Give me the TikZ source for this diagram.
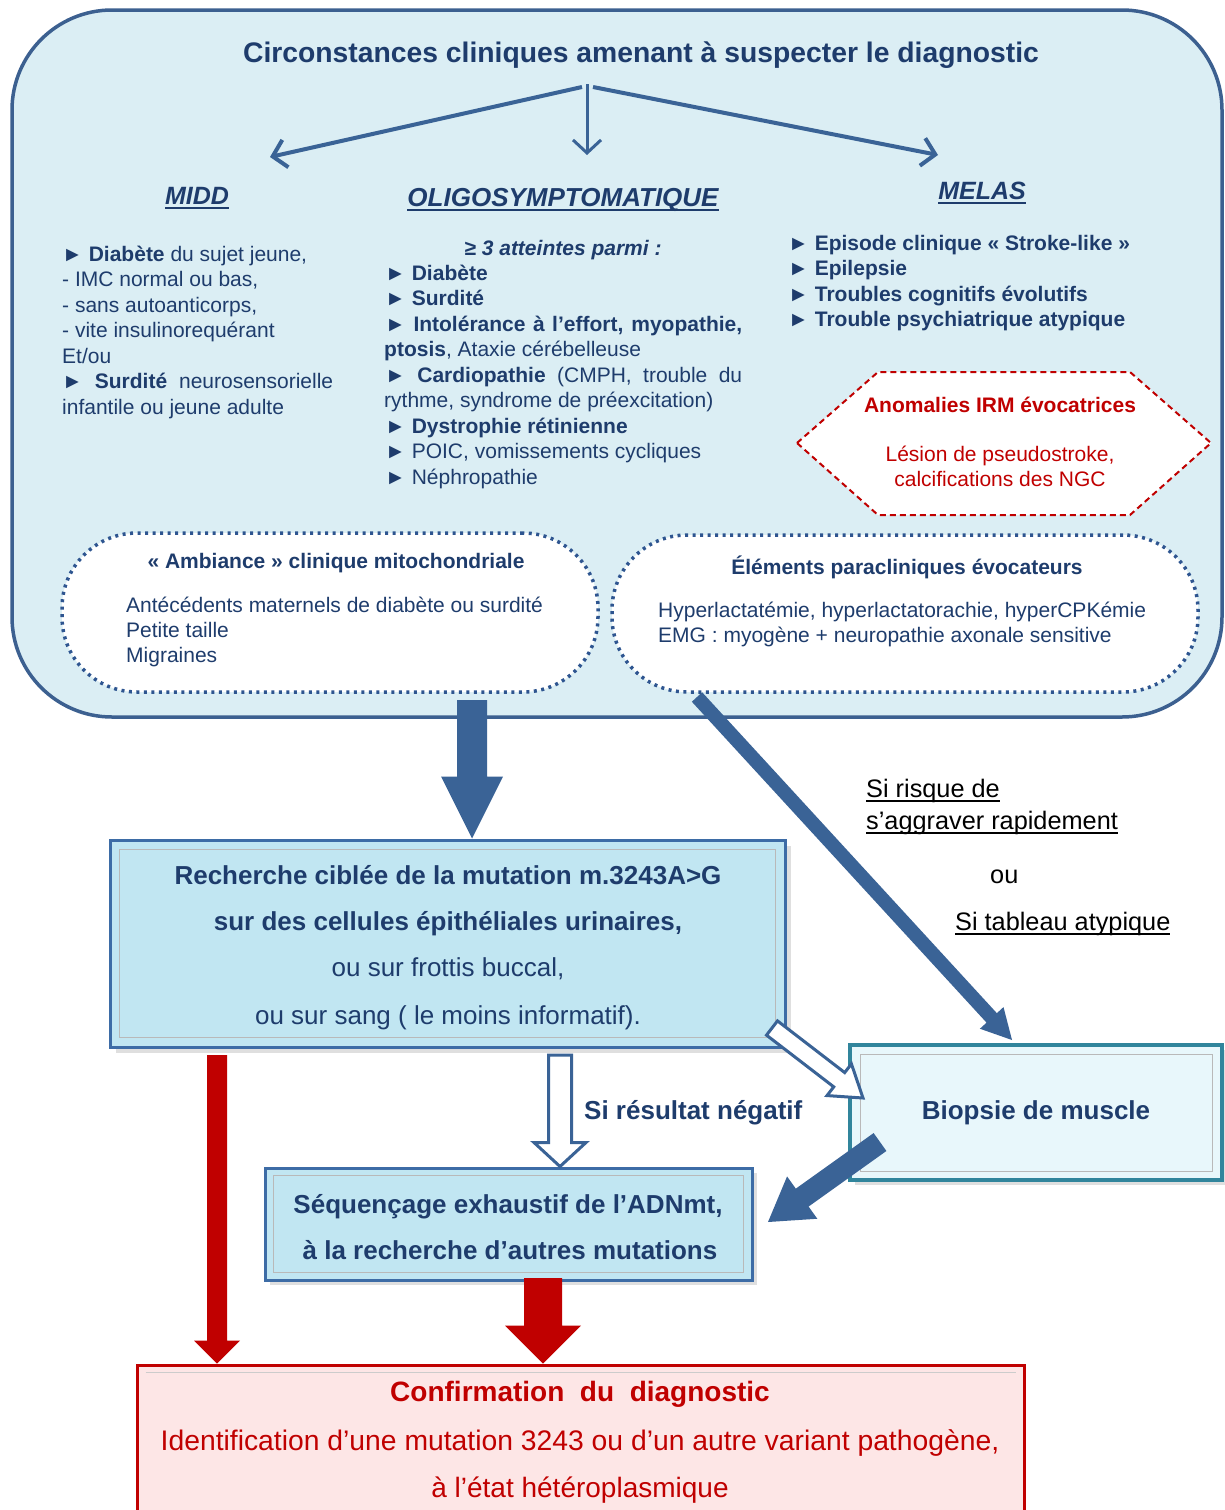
\documentclass[tikz,border=0pt]{standalone}
\usepackage{fontspec}
\setmainfont{Liberation Sans}
\usetikzlibrary{arrows.meta,calc}
\definecolor{navy}{HTML}{1E3C6C}
\definecolor{arrowblue}{HTML}{3A6396}
\definecolor{framec}{HTML}{3C6090}
\definecolor{bgblue}{HTML}{DBEEF4}
\definecolor{dotblue}{HTML}{2E5590}
\definecolor{boxfill}{HTML}{C1E6F2}
\definecolor{boxline}{HTML}{3D6CA6}
\definecolor{biotealc}{HTML}{31859C}
\definecolor{biofill}{HTML}{E8F7FB}
\definecolor{redc}{HTML}{C00000}
\definecolor{pinkfill}{HTML}{FDE6E6}
\newcommand\szTitle{\fontsize{28.3}{33}\selectfont}
\newcommand\szHead{\fontsize{25}{30}\selectfont}
\newcommand\szBody{\fontsize{21}{25.5}\selectfont}
\newcommand\szBoxt{\fontsize{26}{31}\selectfont}
\newcommand\szConf{\fontsize{28}{33}\selectfont}
\newcommand\myul[1]{\leavevmode\setbox0\hbox{#1}\rlap{\raisebox{-5pt}{\rule{\wd0}{2pt}}}\box0}
\newcommand\myulb[1]{\leavevmode\setbox0\hbox{#1}\rlap{\raisebox{-4.5pt}{\rule{\wd0}{1.6pt}}}\box0}
\newcommand\blockarr[6]{%
  \coordinate (bah) at ($(#3)!#6!(#2)$);
  \path[#1] ($(#2)!#4!90:(#3)$) -- ($(bah)!#4!90:(#3)$) -- ($(bah)!#5!90:(#3)$) -- (#3)
    -- ($(bah)!#5!-90:(#3)$) -- ($(bah)!#4!-90:(#3)$) -- ($(#2)!#4!-90:(#3)$) -- cycle;}
\begin{document}
\begin{tikzpicture}[x=1pt,y=-1pt,
  txt/.style={anchor=base west, inner sep=0pt, text=navy, font=\szBody},
  ctxt/.style={anchor=base, inner sep=0pt, text=navy, font=\szBody},
  mainbox/.style={draw=framec, line width=3.5pt, fill=bgblue, rounded corners=100pt, inner sep=0pt},
  dotbox/.style={draw=dotblue, fill=white, line width=3.5pt, dash pattern=on 3pt off 4.5pt, rounded corners=75pt, inner sep=0pt},
  bluebox/.style={draw=boxline, fill=boxfill, line width=3pt, inner sep=0pt},
  biobox/.style={draw=biotealc, fill=biofill, line width=4pt, inner sep=0pt},
  confbox/.style={draw=redc, fill=pinkfill, line width=3pt, inner sep=0pt},
  bevel/.style={draw=gray!55, line width=1pt},
  shadowc/.style={fill=gray!70, opacity=0.35},
  forkarrow/.style={draw=arrowblue, line width=4pt, -{Straight Barb[length=13pt,width=28pt]}},
  solidarrow/.style={fill=arrowblue},
  redarrow/.style={fill=redc},
  hollowarrow/.style={draw=arrowblue, fill=white, line width=3pt, line join=miter}
]
\useasboundingbox (0,0) rectangle (1225,1510);
\fill[white] (0,0) rectangle (1225,1510);

% main frame
\node[mainbox, minimum width=1210pt, minimum height=707pt] (main) at (617,363.5) {};
\node[ctxt, font=\szTitle\bfseries] (title) at (641,62) {Circonstances cliniques amenant à suspecter le diagnostic};

\coordinate (forkL) at (582,87);
\coordinate (forkM) at (587,84);
\coordinate (forkR) at (593,87);
\coordinate (tipL) at (270,157);
\coordinate (tipM) at (587,155);
\coordinate (tipR) at (938,155);
\draw[forkarrow] (forkL) -- (tipL);
\draw[forkarrow, line width=3pt] (forkM) -- (tipM);
\draw[forkarrow] (forkR) -- (tipR);

\node[ctxt, font=\szHead\bfseries\itshape] (hMIDD) at (197,204) {\myul{MIDD}};
\node[ctxt, font=\fontsize{26}{30}\selectfont\bfseries\itshape] (hOLIGO) at (563,206) {\myul{OLIGOSYMPTOMATIQUE}};
\node[ctxt, font=\szHead\bfseries\itshape] (hMELAS) at (982,199) {\myul{MELAS}};

% MIDD
\node[txt] (m1) at (62,261) {► \textbf{Diabète} du sujet jeune,};
\node[txt] (m2) at (62,286.5) {- IMC normal ou bas,};
\node[txt] (m3) at (62,312) {- sans autoanticorps,};
\node[txt] (m4) at (62,337.5) {- vite insulinorequérant};
\node[txt] (m5) at (62,363) {Et/ou};
\node[txt] (m6) at (62,388.5) {\makebox[271pt][s]{► \textbf{Surdité} neurosensorielle}};
\node[txt] (m7) at (62,414) {infantile ou jeune adulte};

% OLIGO
\node[ctxt] (o0) at (563,255) {\textbf{\textit{≥ 3 atteintes parmi :}}};
\node[txt] (o1) at (385,280) {► \textbf{Diabète}};
\node[txt] (o2) at (385,305.5) {► \textbf{Surdité}};
\node[txt] (o3) at (385,331) {\makebox[357pt][s]{► \textbf{Intolérance à l’effort, myopathie,}}};
\node[txt] (o4) at (384,356.5) {\textbf{ptosis}, Ataxie cérébelleuse};
\node[txt] (o5) at (385,382) {\makebox[357pt][s]{► \textbf{Cardiopathie} (CMPH, trouble du}};
\node[txt] (o6) at (384,407.5) {rythme, syndrome de préexcitation)};
\node[txt] (o7) at (385,433) {► \textbf{Dystrophie rétinienne}};
\node[txt] (o8) at (385,458.5) {► POIC, vomissements cycliques};
\node[txt] (o9) at (385,484) {► Néphropathie};

% MELAS
\node[txt, font=\szBody\bfseries] (e1) at (788,250) {► Episode clinique « Stroke-like »};
\node[txt, font=\szBody\bfseries] (e2) at (788,275.5) {► Epilepsie};
\node[txt, font=\szBody\bfseries] (e3) at (788,301) {► Troubles cognitifs évolutifs};
\node[txt, font=\szBody\bfseries] (e4) at (788,326.5) {► Trouble psychiatrique atypique};

% hexagon
\draw[draw=redc, fill=white, line width=2pt, dash pattern=on 6pt off 4pt]
  (797,443) -- (878,372) -- (1130,372) -- (1211,443) -- (1130,515) -- (878,515) -- cycle;
\node[ctxt, text=redc, font=\szBody\bfseries] (x1) at (1000,412) {Anomalies IRM évocatrices};
\node[ctxt, text=redc] (x2) at (1000,461) {Lésion de pseudostroke,};
\node[ctxt, text=redc] (x3) at (1000,486) {calcifications des NGC};

% dotted boxes
\node[dotbox, minimum width=536pt, minimum height=159pt] (amb) at (330,612.5) {};
\node[dotbox, minimum width=586pt, minimum height=157pt] (elem) at (905,613.5) {};
\node[ctxt, font=\szBody\bfseries] (a0) at (336,568) {« Ambiance » clinique mitochondriale};
\node[txt] (a1) at (126,612) {Antécédents maternels de diabète ou surdité};
\node[txt] (a2) at (126,637) {Petite taille};
\node[txt] (a3) at (126,662) {Migraines};
\node[ctxt, font=\szBody\bfseries] (p0) at (907,574) {Éléments paracliniques évocateurs};
\node[txt] (p1) at (658,617) {Hyperlactatémie, hyperlactatorachie, hyperCPKémie};
\node[txt] (p2) at (658,642) {EMG : myogène + neuropathie axonale sensitive};

% side text
\node[txt, text=black, font=\fontsize{25.3}{30}\selectfont] (s1) at (866,797) {\myulb{Si risque de}};
\node[txt, text=black, font=\fontsize{25.3}{30}\selectfont] (s2) at (866,829) {\myulb{s’aggraver rapidement}};
\node[txt, text=black, font=\fontsize{25.3}{30}\selectfont] (s3) at (990,883) {ou};
\node[txt, text=black, font=\fontsize{25.3}{30}\selectfont] (s4) at (955,930) {\myulb{Si tableau atypique}};

% lower boxes: shadows
\fill[shadowc] (116,846) rectangle (791,1053);
\fill[shadowc] (270,1173) rectangle (757,1285);
\fill[shadowc] (855,1050) rectangle (1227,1185);

\node[bluebox, minimum width=675pt, minimum height=207pt] (rech) at (447.5,943.5) {};
\draw[bevel] ($(rech.north west)+(11,11)$) rectangle ($(rech.south east)+(-11,-11)$);
\node[ctxt, font=\szBoxt\bfseries] (r1) at (448,884) {Recherche ciblée de la mutation m.3243A>G};
\node[ctxt, font=\szBoxt\bfseries] (r2) at (448,930) {sur des cellules épithéliales urinaires,};
\node[ctxt, font=\szBoxt] (r3) at (448,976) {ou sur frottis buccal,};
\node[ctxt, font=\szBoxt] (r4) at (448,1024) {ou sur sang ( le moins informatif).};

\node[biobox, minimum width=372pt, minimum height=135pt] (bio) at (1036,1112.5) {};
\draw[bevel] ($(bio.north west)+(12,11)$) rectangle ($(bio.south east)+(-12,-11)$);
\node[ctxt, font=\szBoxt\bfseries] (b1) at (1036,1119) {Biopsie de muscle};

\node[bluebox, minimum width=487pt, minimum height=112pt] (seq) at (508.5,1224) {};
\draw[bevel] ($(seq.north west)+(10,9)$) rectangle ($(seq.south east)+(-10,-9)$);
\node[ctxt, font=\szBoxt\bfseries] (q1) at (508,1213) {Séquençage exhaustif de l’ADNmt,};
\node[ctxt, font=\szBoxt\bfseries] (q2) at (510,1259) {à la recherche d’autres mutations};

\node[confbox, minimum width=887pt, minimum height=165pt] (conf) at (580.5,1447.5) {};
\draw[bevel, draw=gray!40] ($(conf.north west)+(10,9)$) -- ($(conf.north east)+(-10,9)$);
\node[ctxt, text=redc, font=\szConf\bfseries] (c1) at (580,1401) {Confirmation\ \ du\ \ diagnostic};
\node[ctxt, text=redc, font=\fontsize{28.3}{33}\selectfont] (c2) at (580,1450) {Identification d’une mutation 3243 ou d’un autre variant pathogène,};
\node[ctxt, text=redc, font=\szConf] (c3) at (580,1497) {à l’état hétéroplasmique};

\node[txt, font=\szBoxt\bfseries] (neg) at (584,1119) {Si résultat négatif};

% arrows
\coordinate (bigA) at (472,700);
\coordinate (bigB) at (bigA |- rech.north);
\blockarr{solidarrow}{bigA}{bigB}{15pt}{31pt}{62pt}

\coordinate (diagA) at (697,697);
\coordinate (diagB) at (1012,1040);
\blockarr{solidarrow}{diagA}{diagB}{7pt}{16pt}{30pt}

\coordinate (holA) at (772,1028);
\coordinate (holB) at (863,1098);
\blockarr{hollowarrow}{holA}{holB}{9pt}{20pt}{30pt}

\coordinate (hdA) at (560,1055);
\coordinate (hdB) at (hdA |- seq.north);
\blockarr{hollowarrow}{hdA}{hdB}{11.5pt}{26pt}{24pt}

\coordinate (bsA) at (880,1142);
\coordinate (bsB) at (768,1222);
\blockarr{solidarrow}{bsA}{bsB}{11pt}{26pt}{42pt}

\coordinate (rlA) at (217,1055);
\coordinate (rlB) at (rlA |- conf.north);
\blockarr{redarrow}{rlA}{rlB}{10pt}{23pt}{23pt}

\coordinate (rrA) at (543,1278);
\coordinate (rrB) at (rrA |- conf.north);
\blockarr{redarrow}{rrA}{rrB}{19pt}{38pt}{38pt}
\end{tikzpicture}
\end{document}
